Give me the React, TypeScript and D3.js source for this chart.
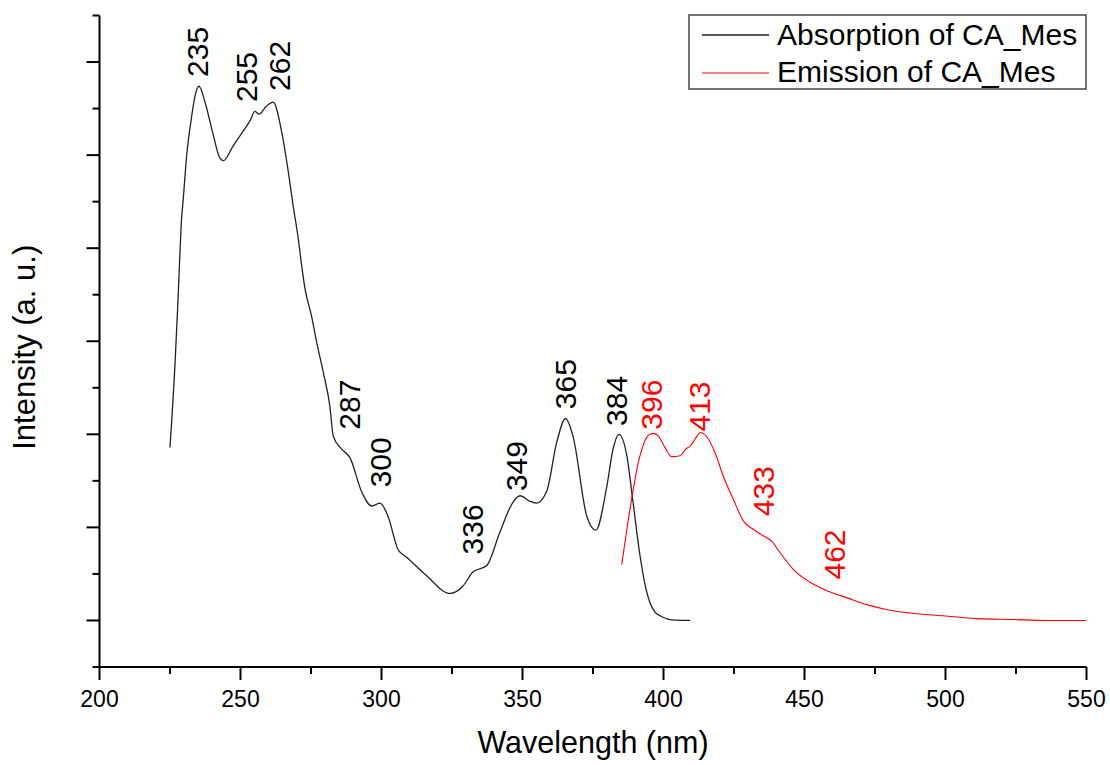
import React, { useEffect } from "react";
import * as d3 from "d3";

// Absorption of CA_Mes (wavelength nm, intensity a.u.)
const absNm = [225.0, 226.8, 227.9, 229.1, 229.7, 230.9, 232.7, 233.9, 235.3, 237.4, 240.4, 242.5, 243.9, 247.4, 251.0, 253.4, 255.1, 256.6, 259.0, 261.6, 264.6, 267.0, 268.7, 270.5, 271.7, 272.9, 275.2, 277.0, 279.4, 281.7, 282.9, 285.9, 288.8, 293.0, 296.5, 299.5, 302.3, 305.9, 308.9, 316.0, 324.3, 328.9, 332.4, 337.3, 342.0, 346.6, 349.1, 352.7, 355.0, 358.6, 362.1, 365.3, 367.9, 372.8, 376.0, 379.9, 382.1, 384.2, 387.0, 389.2, 391.7, 393.5, 395.2, 397.0, 398.8, 401.5, 404.7, 409.4];
const absVal = [1.86, 2.77, 3.49, 4.31, 4.53, 4.99, 5.42, 5.64, 5.74, 5.57, 5.21, 4.98, 4.94, 5.10, 5.26, 5.37, 5.47, 5.44, 5.52, 5.57, 5.25, 4.81, 4.45, 4.10, 3.81, 3.56, 3.27, 2.99, 2.66, 2.30, 1.98, 1.84, 1.75, 1.38, 1.23, 1.26, 1.12, 0.76, 0.68, 0.48, 0.29, 0.37, 0.52, 0.59, 0.95, 1.27, 1.34, 1.28, 1.26, 1.39, 1.91, 2.17, 1.98, 1.12, 0.97, 1.44, 1.84, 2.00, 1.77, 1.27, 0.69, 0.38, 0.19, 0.09, 0.05, 0.015, 0.003, 0.0];

// Emission of CA_Mes
const emiNm = [385.2, 388.1, 391.1, 393.4, 395.2, 396.6, 398.2, 400.5, 402.9, 405.9, 408.2, 409.4, 411.2, 413.2, 415.9, 418.3, 421.2, 424.8, 428.3, 431.8, 434.8, 438.4, 441.3, 446.0, 452.0, 457.9, 465.4, 472.1, 480.3, 487.4, 499.2, 511.1, 524.0, 535.9, 549.8];
const emiVal = [0.60, 1.19, 1.70, 1.93, 2.00, 2.01, 1.98, 1.86, 1.76, 1.77, 1.85, 1.87, 1.95, 2.02, 1.95, 1.80, 1.55, 1.30, 1.07, 0.98, 0.92, 0.85, 0.73, 0.55, 0.41, 0.32, 0.24, 0.17, 0.11, 0.08, 0.05, 0.02, 0.01, 0.0, 0.0];

// Peak annotations (label, anchor nm, anchor intensity)
const absLabels = ["235", "255", "262", "287", "300", "336", "349", "365", "384"];
const absLabelNm = [234.9, 252.3, 263.7, 288.8, 299.5, 332.4, 347.7, 365.4, 383.5];
const absLabelVal = [5.84, 5.57, 5.69, 2.05, 1.43, 0.71, 1.39, 2.27, 2.09];
const emiLabels = ["396", "413", "433", "462"];
const emiLabelNm = [395.9, 412.9, 435.6, 460.8];
const emiLabelVal = [2.05, 2.03, 1.12, 0.44];

const xMajorTicks = [200, 250, 300, 350, 400, 450, 500, 550];
const xMinorTicks = [225, 275, 325, 375, 425, 475, 525];
const yMajorTicks = [0, 1, 2, 3, 4, 5, 6];
const yMinorTicks = [-0.5, 0.5, 1.5, 2.5, 3.5, 4.5, 5.5, 6.5];

const seriesNames = ["Absorption of CA_Mes", "Emission of CA_Mes"];
const xTitle = "Wavelength (nm)";
const yTitle = "Intensity (a. u.)";

const W = 1110;
const H = 765;
const FONT = "Arial, 'Liberation Sans', sans-serif";

export default function App() {
  useEffect(() => {
    document.body.style.margin = "0";
  }, []);

  const x = d3.scaleLinear().domain([200, 550]).range([99.5, 1086.5]);
  const y = d3.scaleLinear().domain([-0.5, 6.5]).range([667, 15.5]);

  const line = d3
    .line<[number, number]>()
    .x((d) => x(d[0]))
    .y((d) => y(d[1]))
    .curve(d3.curveMonotoneX);

  const absPath = line(absNm.map((n, i) => [n, absVal[i]] as [number, number])) || "";
  const emiPath = line(emiNm.map((n, i) => [n, emiVal[i]] as [number, number])) || "";

  const y0 = y(-0.5);
  const x0 = x(200);

  return (
    <svg width={W} height={H} style={{ display: "block", background: "#fff" }} fontFamily={FONT}>
      <rect x={0} y={0} width={W} height={H} fill="#fff" />
      {/* data */}
      <path d={absPath} fill="none" stroke="#222" strokeWidth={1.3} />
      <path d={emiPath} fill="none" stroke="#ff0000" strokeWidth={1.1} />

      {/* axes */}
      <g stroke="#000" strokeWidth={2}>
        <line x1={x0} y1={y0} x2={x(550)} y2={y0} />
        <line x1={x0} y1={y0} x2={x0} y2={y(6.5)} />
        {xMajorTicks.map((t) => (
          <line key={"xM" + t} x1={x(t)} x2={x(t)} y1={y0} y2={y0 + 13} />
        ))}
        {xMinorTicks.map((t) => (
          <line key={"xm" + t} x1={x(t)} x2={x(t)} y1={y0} y2={y0 + 7} />
        ))}
        {yMajorTicks.map((t) => (
          <line key={"yM" + t} x1={x0} x2={x0 - 13} y1={y(t)} y2={y(t)} />
        ))}
        {yMinorTicks.map((t) => (
          <line key={"ym" + t} x1={x0} x2={x0 - 7} y1={y(t)} y2={y(t)} />
        ))}
      </g>
      <g fontSize={23} textAnchor="middle" fill="#000">
        {xMajorTicks.map((t) => (
          <text key={"xl" + t} x={x(t)} y={707}>
            {t}
          </text>
        ))}
      </g>
      <text x={(x(200) + x(550)) / 2} y={753} fontSize={30.5} textAnchor="middle" fill="#000">
        {xTitle}
      </text>
      <text
        transform={`translate(35, ${(y(-0.5) + y(6.5)) / 2 + 6}) rotate(-90)`}
        fontSize={31}
        textAnchor="middle"
        fill="#000"
      >
        {yTitle}
      </text>

      {/* peak labels */}
      <g fontSize={30} fill="#000">
        {absLabels.map((l, i) => (
          <text
            key={"al" + l}
            transform={`translate(${x(absLabelNm[i])}, ${y(absLabelVal[i])}) rotate(-90)`}
            dy="0.35em"
          >
            {l}
          </text>
        ))}
      </g>
      <g fontSize={30} fill="#ff0000">
        {emiLabels.map((l, i) => (
          <text
            key={"el" + l}
            transform={`translate(${x(emiLabelNm[i])}, ${y(emiLabelVal[i])}) rotate(-90)`}
            dy="0.35em"
          >
            {l}
          </text>
        ))}
      </g>

      {/* legend */}
      <rect x={689} y={15} width={397} height={74} fill="#fff" stroke="#444" strokeWidth={1.5} />
      <line x1={702} x2={769} y1={35} y2={35} stroke="#222" strokeWidth={1.3} />
      <line x1={702} x2={769} y1={73} y2={73} stroke="#ff0000" strokeWidth={1.1} />
      <text x={777} y={45} fontSize={30} fill="#000">
        {seriesNames[0]}
      </text>
      <text x={777} y={82} fontSize={30} fill="#000">
        {seriesNames[1]}
      </text>
    </svg>
  );
}
